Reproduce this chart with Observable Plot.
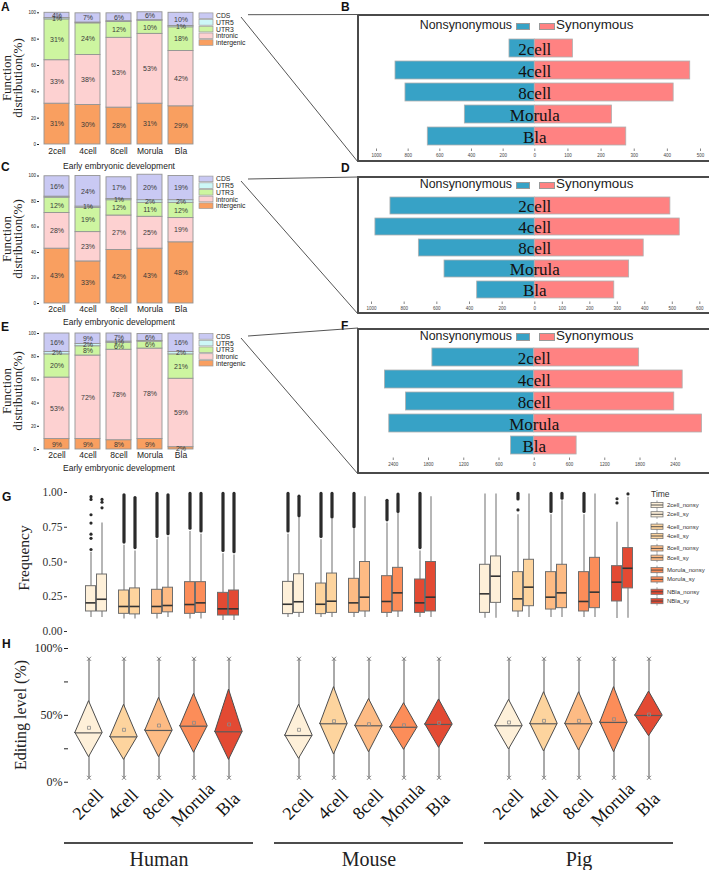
<!DOCTYPE html>
<html><head><meta charset="utf-8">
<script src="https://cdn.jsdelivr.net/npm/d3@7"></script>
<script src="https://cdn.jsdelivr.net/npm/@observablehq/plot@0.6"></script>
<style>
body{margin:0;background:#fff;}
#root{position:relative;width:709px;height:870px;overflow:hidden;background:#fff;font-family:"Liberation Sans",Arial,sans-serif;}
.box{position:absolute;border:2px solid #4a4a4a;box-sizing:border-box;}
.lg{position:absolute;white-space:nowrap;font-family:"Liberation Sans",Arial,sans-serif;color:#222;}
.sw{position:absolute;box-sizing:border-box;border:1px solid #999;}
</style></head><body><div id="root"></div>
<script>
// ---------------- data ----------------
const stages = ["2cell", "4cell", "8cell", "Morula", "Bla"];
const funcTypes = ["intergenic", "intronic", "UTR3", "UTR5", "CDS"]; // bottom -> top
const funcColors = ["#f99f60", "#fdd1d1", "#cdf5a0", "#cdf7f7", "#c9c9f3"];
// % per stage in funcTypes order
const funcA = [[31, 33, 31, 1, 4], [30, 38, 24, 0.6, 7], [28, 53, 12, 0.6, 6], [31, 53, 10, 0.4, 6], [29, 42, 18, 1, 10]];
const funcC = [[43, 28, 12, 0.8, 16], [33, 23, 19, 1, 24], [42, 27, 12, 1, 17], [43, 25, 11, 2, 20], [48, 19, 12, 2, 19]];
const funcE = [[9, 53, 20, 2, 16], [9, 72, 8, 2, 9], [8, 78, 6, 1, 7], [9, 78, 6, 0.6, 6], [2, 59, 21, 2, 16]];

const nonsynB = [160, 880, 817, 442, 676];
const synB = [115, 469, 419, 233, 276];
const nonsynD = [884, 976, 710, 553, 353];
const synD = [493, 527, 396, 343, 289];
const nonsynF = [1734, 2542, 2183, 2468, 395];
const synF = [1785, 2526, 2383, 2856, 721];
const ticksB = [-1000, -800, -600, -400, -200, 0, 100, 200, 300, 400, 500];
const ticksD = [-1000, -800, -600, -400, -200, 0, 100, 200, 300, 400, 500, 600];
const ticksF = [-2400, -1800, -1200, -600, 0, 600, 1200, 1800, 2400];
const extentB = [-1000, 500];
const extentD = [-1000, 600];
const extentF = [-2600, 2870];
// left half of the axis is drawn compressed relative to the right half
const leftScaleB = 0.4777;
const leftScaleD = 0.594;
const leftScaleF = 1;
const legendNon = "Nonsynonymous", legendSyn = "Synonymous";

const groups = ["Human", "Mouse", "Pig"];
const stageColors = ["#fef0d9", "#fdd49e", "#fdbb84", "#fc8d59", "#e34a33"];
const freqCats = ["2cell_nonsy", "2cell_sy", "4cell_nonsy", "4cell_sy", "8cell_nonsy", "8cell_sy", "Morula_nonsy", "Morula_sy", "Bla_nonsy", "Bla_sy"];
const freqLegend = ["2cell_nonsy", "2cell_sy", "4cell_nonsy", "4cell_sy", "8cell_nonsy", "8cell_sy", "Morula_nonsy", "Morula_sy", "NBla_nonsy", "NBla_sy"];
// [whisker low, q1, median, q3, whisker high]
const humanFreq = [[0.10, 0.144, 0.206, 0.326, 0.57], [0.10, 0.144, 0.232, 0.41, 0.78], [0.09, 0.127, 0.18, 0.295, 0.62], [0.09, 0.123, 0.18, 0.31, 0.58], [0.09, 0.127, 0.18, 0.30, 0.66],
  [0.10, 0.138, 0.187, 0.315, 0.68], [0.09, 0.127, 0.194, 0.355, 0.72], [0.09, 0.134, 0.206, 0.355, 0.70], [0.08, 0.115, 0.163, 0.278, 0.56], [0.08, 0.115, 0.163, 0.295, 0.55]];
const mouseFreq = [[0.10, 0.125, 0.196, 0.357, 0.70], [0.10, 0.134, 0.214, 0.412, 0.82], [0.10, 0.125, 0.196, 0.345, 0.66], [0.10, 0.134, 0.218, 0.417, 0.81], [0.10, 0.134, 0.206, 0.379, 0.74],
  [0.10, 0.144, 0.247, 0.50, 0.97], [0.10, 0.134, 0.216, 0.398, 0.78], [0.10, 0.144, 0.278, 0.458, 0.85], [0.10, 0.134, 0.206, 0.374, 0.58], [0.10, 0.144, 0.247, 0.50, 0.97]];
const pigFreq = [[0.096, 0.134, 0.271, 0.48, 0.99], [0.096, 0.206, 0.398, 0.54, 0.99], [0.10, 0.144, 0.235, 0.427, 0.84], [0.10, 0.182, 0.319, 0.516, 0.99], [0.10, 0.158, 0.247, 0.427, 0.84],
  [0.10, 0.168, 0.278, 0.48, 0.94], [0.10, 0.144, 0.216, 0.427, 0.84], [0.10, 0.168, 0.283, 0.53, 0.99], [0.094, 0.216, 0.355, 0.47, 0.786], [0.096, 0.31, 0.455, 0.60, 0.966]];
// dense runs of outliers [from, to]
const humanDense = [null, null, [0.64, 0.98], [0.60, 0.96], [0.68, 0.99], [0.70, 0.98], [0.74, 0.99], [0.72, 0.99], [0.58, 0.99], [0.57, 0.99]];
const mouseDense = [[0.72, 0.99], [0.83, 0.97], [0.68, 0.99], [0.82, 0.99], [0.75, 0.99], null, [0.80, 0.94], [0.86, 0.985], [0.60, 0.99], null];
const pigDense = [null, null, [0.95, 0.99], null, [0.86, 0.99], [0.955, 0.99], [0.86, 0.99], null, null, null];
// single outliers
const humanDots = [[0.59, 0.67, 0.70, 0.78, 0.84, 0.95, 0.97], [0.89, 0.93, 0.95], [], [], [], [], [], [], [], []];
const mouseDots = [[], [], [], [], [], [], [], [], [], []];
const pigDots = [[], [], [0.875], [], [], [], [], [], [0.925, 0.955], [0.99]];

// editing level (%): [q1, median, mean, q3]
const humanEdit = [[18.7, 36.9, 40.7, 60.6], [16.7, 33.9, 39.2, 57.9], [18.7, 38.7, 42.4, 63.1], [22.0, 41.9, 44.4, 66.1], [16.7, 37.7, 43.2, 69.3]];
const mouseEdit = [[17.5, 34.9, 39.2, 57.9], [20.7, 43.7, 45.6, 71.1], [22.4, 42.2, 43.4, 62.2], [24.2, 41.1, 42.6, 59.1], [25.7, 43.2, 44.4, 61.9]];
const pigEdit = [[24.5, 42.2, 44.7, 61.6], [23.0, 43.7, 45.9, 67.3], [23.7, 43.7, 45.9, 67.3], [22.4, 44.7, 47.1, 71.1], [34.4, 49.9, 50.6, 67.8]];
// whisker [min, max]
const humanRange = [[3.3, 92.3], [3.3, 92.3], [3.3, 92.3], [3.3, 92.3], [3.3, 92.3]];
const mouseRange = [[3.3, 92.3], [3.3, 92.3], [3.3, 92.3], [3.3, 92.3], [3.3, 92.3]];
const pigRange = [[3.3, 92.3], [3.3, 92.3], [3.3, 92.3], [3.3, 92.3], [3.3, 92.3]];
const editTicks = [0, 50, 100];
const editMinorTicks = [25, 75];
const freqTicks = [0, 0.25, 0.5, 0.75, 1];

// ---------------- helpers ----------------
const SANS = "'Liberation Sans', Arial, sans-serif";
const SERIF = "'Liberation Serif', 'Times New Roman', serif";
const root = document.getElementById("root");
function place(el, left, top) {
  el.style.position = "absolute"; el.style.left = left + "px"; el.style.top = top + "px";
  el.style.maxWidth = "none"; el.style.overflow = "visible";
  root.appendChild(el); return el;
}

// ---------------- A / C / E stacked bars ----------------
function stackPanel(vals, top, y100, y0, tickPad) {
  const height = y0 - top + 24;
  const rows = [];
  stages.forEach((s, i) => funcTypes.forEach((t, j) => rows.push({stage: s, type: t, value: vals[i][j]})));
  const svg = Plot.plot({
    width: 205, height,
    marginLeft: 39, marginRight: 6, marginTop: y100 - top, marginBottom: height - (y0 - top),
    style: {background: "transparent", fontFamily: SANS, color: "#222"},
    x: {domain: stages, paddingInner: 0.1875, paddingOuter: 0.094},
    y: {domain: [0, 100]},
    color: {domain: funcTypes, range: funcColors},
    marks: [
      Plot.barY(rows, Plot.stackY({x: "stage", y: "value", fill: "type", order: funcTypes, stroke: "#949494", strokeWidth: 0.9})),
      Plot.text(rows, Plot.stackY({x: "stage", y: "value", z: "type", order: funcTypes,
        text: d => d.value >= 1 ? d.value + "%" : "", fontSize: 7, fill: "#3a3a3a"})),
      Plot.axisY({ticks: [0, 20, 40, 60, 80, 100], tickSize: 2, tickPadding: 1.5, fontSize: 4.5, line: true, label: null}),
      Plot.axisX({tickSize: 0, tickPadding: tickPad, fontSize: 8.5, label: null})
    ]
  });
  place(svg, 0, top);
}
stackPanel(funcA, 0, 12.3, 144, 3.5);
stackPanel(funcC, 163, 175.5, 303, 2.5);
stackPanel(funcE, 322, 333, 449, 2.5);

// ---------------- B / D / F diverging bars ----------------
const BOXL = 358, BOXW = 351;
function divPanel(nonsyn, syn, extent, leftScale, xRange, ticks, boxTop, boxBottom, mt, frameBottom) {
  const H = boxBottom - boxTop;
  const box = document.createElement("div");
  box.className = "box";
  box.style.left = (BOXL - 1) + "px"; box.style.top = boxTop + "px";
  box.style.width = "360px"; box.style.height = H + "px";
  root.appendChild(box);
  const rows = stages.map((s, i) => ({stage: s, nonsyn: nonsyn[i], syn: syn[i]}));
  const tf = v => v < 0 ? v * leftScale : v;
  const frameH = frameBottom - mt;
  const svg = Plot.plot({
    width: BOXW, height: H,
    marginLeft: xRange[0], marginRight: BOXW - xRange[1], marginTop: mt, marginBottom: H - frameBottom,
    style: {background: "transparent", fontFamily: SANS, color: "#333"},
    x: {transform: tf, domain: extent.map(tf)},
    y: {domain: stages, padding: 0.2, axis: null},
    marks: [
      Plot.barX(rows, {y: "stage", x1: 0, x2: d => -d.nonsyn, fill: "#37a2c6", stroke: "#b0b0b0", strokeWidth: 0.8}),
      Plot.barX(rows, {y: "stage", x1: 0, x2: "syn", fill: "#ff8282", stroke: "#b0b0b0", strokeWidth: 0.8}),
      Plot.text(rows, {y: "stage", x: 0, text: "stage", fontSize: 17, fontFamily: SERIF, fill: "#111", dy: 1}),
      Plot.tickX(ticks, {x: d => d, insetTop: frameH - 2.5, stroke: "#555", strokeWidth: 0.7}),
      Plot.text(ticks, {x: d => d, text: d => String(Math.abs(d)), frameAnchor: "bottom", dy: 5, fontSize: 4.5, fill: "#444"}),
      Plot.axisX({ticks: [], line: true, label: null, anchor: "bottom", tickSize: 0})
    ]
  });
  place(svg, BOXL, boxTop);
}
divPanel(nonsynB, synB, extentB, leftScaleB, [18, 342], ticksB, 14, 162, 18.4, 137);
divPanel(nonsynD, synD, extentD, leftScaleD, [13, 341.3], ticksD, 176, 314, 13.9, 128);
divPanel(nonsynF, synF, extentF, leftScaleF, [23, 344.4], ticksF, 328, 474, 14.4, 132);

function boxLegend(baseline) {
  const a = document.createElement("div"); a.className = "lg";
  a.textContent = legendNon; a.style.right = (709 - 512) + "px"; a.style.top = (baseline - 11.5) + "px"; a.style.fontSize = "12.4px";
  root.appendChild(a);
  const s1 = document.createElement("div"); s1.className = "sw";
  Object.assign(s1.style, {left: "516px", top: (baseline - 7) + "px", width: "14px", height: "7.5px", background: "#37a2c6"});
  root.appendChild(s1);
  const s2 = document.createElement("div"); s2.className = "sw";
  Object.assign(s2.style, {left: "539px", top: (baseline - 7) + "px", width: "16px", height: "7.5px", background: "#ff8282"});
  root.appendChild(s2);
  const b = document.createElement("div"); b.className = "lg";
  b.textContent = legendSyn; b.style.left = "556px"; b.style.top = (baseline - 12.5) + "px"; b.style.fontSize = "13.4px";
  root.appendChild(b);
}
boxLegend(29.5); boxLegend(188.5); boxLegend(340);

// ---------------- G boxplots ----------------
const freqBand = ["2cell_nonsy", "2cell_sy", "s1", "4cell_nonsy", "4cell_sy", "s2", "8cell_nonsy", "8cell_sy", "s3",
  "Morula_nonsy", "Morula_sy", "s4", "Bla_nonsy", "Bla_sy"];
const freqRows = [], denseRows = [], dotRows = [];
[[humanFreq, humanDense, humanDots], [mouseFreq, mouseDense, mouseDots], [pigFreq, pigDense, pigDots]].forEach(([f, dn, dt], g) => {
  freqCats.forEach((c, k) => {
    const stage = stages[Math.floor(k / 2)];
    freqRows.push({group: groups[g], cat: c, stage, low: f[k][0], q1: f[k][1], med: f[k][2], q3: f[k][3], high: f[k][4]});
    if (dn[k]) denseRows.push({group: groups[g], cat: c, lo: dn[k][0], hi: dn[k][1]});
    dt[k].forEach(v => dotRows.push({group: groups[g], cat: c, v}));
  });
});
const gSvg = Plot.plot({
  width: 709, height: 160, marginLeft: 77.5, marginRight: 68, marginTop: 12, marginBottom: 9,
  style: {background: "transparent", fontFamily: SERIF, color: "#333"},
  fx: {domain: groups, paddingInner: 0.15, paddingOuter: 0, axis: null, label: null},
  x: {domain: freqBand, paddingInner: 0.083, paddingOuter: 0, axis: null, label: null},
  y: {domain: [0, 1], label: null},
  color: {domain: stages, range: stageColors},
  marks: [
    Plot.ruleX(freqRows, {fx: "group", x: "cat", y1: "low", y2: "q1", stroke: "#7a7a7a", strokeWidth: 1.1}),
    Plot.ruleX(freqRows, {fx: "group", x: "cat", y1: "q3", y2: "high", stroke: "#7a7a7a", strokeWidth: 1.1}),
    Plot.ruleX(denseRows, {fx: "group", x: "cat", y1: "lo", y2: "hi", stroke: "#2a2a2a", strokeWidth: 3.2, strokeLinecap: "round"}),
    Plot.dot(dotRows, {fx: "group", x: "cat", y: "v", r: 1.6, fill: "#2a2a2a"}),
    Plot.barY(freqRows, {fx: "group", x: "cat", y1: "q1", y2: "q3", fill: "stage", stroke: "#6e6e6e", strokeWidth: 1}),
    Plot.tickY(freqRows, {fx: "group", x: "cat", y: "med", stroke: "#333", strokeWidth: 1.6}),
    Plot.axisY({ticks: freqTicks, tickFormat: d3.format(".2f"), fontSize: 11.5, fontFamily: SERIF, tickSize: 3, tickPadding: 2, dx: -12, label: null})
  ]
});
place(gSvg, 0, 480);

// ---------------- H diamonds ----------------
const editX = [-0.5, 4.5];
const editY = [-23.4, 100];
const hw = 0.39;
const editRows = [], diamondPts = [];
[[humanEdit, humanRange], [mouseEdit, mouseRange], [pigEdit, pigRange]].forEach(([e, r], g) => {
  stages.forEach((s, i) => {
    const row = {group: groups[g], stage: s, i, q1: e[i][0], med: e[i][1], mean: e[i][2], q3: e[i][3], low: r[i][0], high: r[i][1]};
    editRows.push(row);
    const key = groups[g] + s;
    diamondPts.push({group: row.group, stage: s, key, x: i - hw, y1: row.med, y2: row.med});
    diamondPts.push({group: row.group, stage: s, key, x: i, y1: row.q1, y2: row.q3});
    diamondPts.push({group: row.group, stage: s, key, x: i + hw, y1: row.med, y2: row.med});
  });
});
const hSvg = Plot.plot({
  width: 709, height: 230, marginLeft: 70.5, marginRight: 43.5, marginTop: 8, marginBottom: 57,
  style: {background: "transparent", fontFamily: SERIF, color: "#222"},
  fx: {domain: groups, paddingInner: 1 / 6, paddingOuter: 0, label: null},
  x: {domain: editX, axis: null, label: null},
  y: {domain: editY, label: null},
  color: {domain: stages, range: stageColors},
  marks: [
    Plot.ruleX(editRows, {fx: "group", x: "i", y1: "low", y2: "high", stroke: "#555", strokeWidth: 1}),
    Plot.dot(editRows, {fx: "group", x: "i", y: "low", symbol: "times", r: 2, stroke: "#777", strokeWidth: 0.9}),
    Plot.dot(editRows, {fx: "group", x: "i", y: "high", symbol: "times", r: 2, stroke: "#777", strokeWidth: 0.9}),
    Plot.areaY(diamondPts, {fx: "group", x: "x", y1: "y1", y2: "y2", z: "key", fill: "stage", stroke: "#4d4d4d", strokeWidth: 1, curve: "linear"}),
    Plot.ruleY(editRows, {fx: "group", y: "med", x1: d => d.i - hw, x2: d => d.i + hw, stroke: "#5a5a5a", strokeWidth: 1.2}),
    Plot.dot(editRows, {fx: "group", x: "i", y: "mean", symbol: "square", r: 1.7, stroke: "#8a8a8a", fill: "none", strokeWidth: 0.8}),
    Plot.text(editRows, {fx: "group", x: "i", text: "stage", frameAnchor: "bottom", rotate: -45, textAnchor: "middle", dx: 3, dy: -5, fontSize: 18, fontFamily: SERIF, fill: "#111"}),
    Plot.ruleY(groups, {fx: d => d, y: () => editY[0], x1: editX[0] - 0.2, x2: editX[1] + 0.2, dy: 29.5, stroke: "#111", strokeWidth: 1.3}),
    Plot.axisFx({anchor: "bottom", tickSize: 0, tickPadding: 38, fontSize: 20, fontFamily: SERIF, label: null}),
    Plot.axisY({ticks: editTicks, tickFormat: d => d + "%", fontSize: 12, fontFamily: SERIF, tickSize: 4, tickPadding: 2, line: true, dx: -3, label: null}),
    Plot.axisY({ticks: editMinorTicks, tickFormat: () => "", tickSize: 4, dx: -3, label: null})
  ]
});
place(hSvg, 0, 640);

// ---------------- overlay: letters, titles, legends, connectors ----------------
const ov = d3.create("svg").attr("width", 709).attr("height", 870)
  .style("position", "absolute").style("left", "0px").style("top", "0px").style("pointer-events", "none");
const letters = [["A", 1, 10.5], ["B", 341, 10.5], ["C", 1, 171], ["D", 341, 172], ["E", 1, 331], ["F", 341, 329.5], ["G", 2, 501], ["H", 2, 648]];
letters.forEach(([t, x, y]) => ov.append("text").attr("x", x).attr("y", y).text(t)
  .attr("font-family", SANS).attr("font-weight", "bold").attr("font-size", 12).attr("fill", "#111"));

[[78, 166], [239, 322], [391, 468]].forEach(([yc, yl]) => {
  ov.append("text").attr("transform", `translate(6.5,${yc}) rotate(-90)`).attr("text-anchor", "middle")
    .attr("dominant-baseline", "central").attr("font-family", SERIF).attr("font-size", 13).attr("fill", "#222").text("Function");
  ov.append("text").attr("transform", `translate(17.5,${yc}) rotate(-90)`).attr("text-anchor", "middle")
    .attr("dominant-baseline", "central").attr("font-family", SERIF).attr("font-size", 13).attr("fill", "#222").text("distribution(%)");
  ov.append("text").attr("x", 119).attr("y", yl).attr("text-anchor", "middle").attr("dominant-baseline", "central")
    .attr("font-family", SANS).attr("font-size", 8.5).attr("fill", "#222").text("Early embryonic development");
});
ov.append("text").attr("transform", "translate(23.5,558) rotate(-90)").attr("text-anchor", "middle")
  .attr("dominant-baseline", "central").attr("font-family", SERIF).attr("font-size", 15.5).attr("fill", "#222").text("Frequency");
ov.append("text").attr("transform", "translate(20,715) rotate(-90)").attr("text-anchor", "middle")
  .attr("dominant-baseline", "central").attr("font-family", SERIF).attr("font-size", 16).attr("fill", "#222").text("Editing level (%)");

// function-type legends
[12.3, 175.5, 333].forEach(top => {
  funcTypes.slice().reverse().forEach((t, i) => {
    const c = funcColors[funcTypes.indexOf(t)];
    const yc = top + 3.4 + i * 6.7;
    ov.append("rect").attr("x", 199).attr("y", yc - 2.8).attr("width", 14).attr("height", 5.6)
      .attr("fill", c).attr("stroke", "#9a9a9a").attr("stroke-width", 0.7);
    ov.append("text").attr("x", 216).attr("y", yc).attr("dominant-baseline", "central")
      .attr("font-family", SANS).attr("font-size", 6.8).attr("fill", "#222").text(t);
  });
});
// connectors
[[14.7, 14.5, 17, 162], [179, 177, 181, 314], [336, 328, 338, 474]].forEach(([ya, yb, yd, ye]) => {
  ov.append("line").attr("x1", 248).attr("y1", ya).attr("x2", BOXL).attr("y2", yb).attr("stroke", "#555").attr("stroke-width", 1);
  ov.append("line").attr("x1", 241).attr("y1", yd).attr("x2", BOXL).attr("y2", ye).attr("stroke", "#555").attr("stroke-width", 1);
});
// G legend
ov.append("text").attr("x", 651).attr("y", 497).attr("font-family", SANS).attr("font-size", 8.5).attr("fill", "#333").text("Time");
freqLegend.forEach((lab, k) => {
  const yc = 505 + Math.floor(k / 2) * 21.7 + (k % 2) * 9.3;
  const c = stageColors[Math.floor(k / 2)];
  ov.append("line").attr("x1", 657).attr("x2", 657).attr("y1", yc - 4.5).attr("y2", yc + 4.5).attr("stroke", "#888").attr("stroke-width", 0.8);
  ov.append("rect").attr("x", 651).attr("y", yc - 2.6).attr("width", 12).attr("height", 5.2)
    .attr("fill", c).attr("stroke", "#777").attr("stroke-width", 0.8);
  ov.append("line").attr("x1", 651).attr("x2", 663).attr("y1", yc).attr("y2", yc).attr("stroke", "#444").attr("stroke-width", 0.9);
  ov.append("text").attr("x", 667).attr("y", yc).attr("dominant-baseline", "central")
    .attr("font-family", SANS).attr("font-size", 6).attr("fill", "#333").text(lab);
});
root.appendChild(ov.node());
</script></body></html>
